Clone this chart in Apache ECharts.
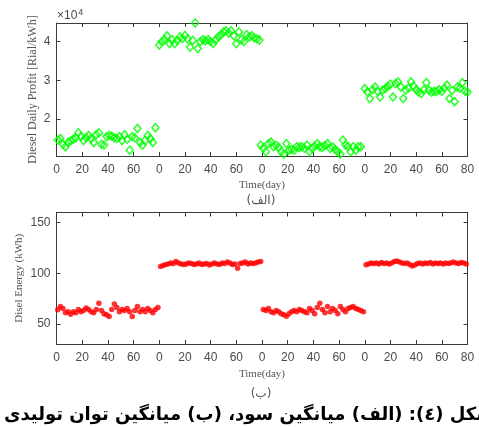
<!DOCTYPE html>
<html>
<head>
<meta charset="utf-8">
<script src="https://cdn.jsdelivr.net/npm/echarts@6/dist/echarts.min.js"></script>
<style>
  html, body { margin: 0; padding: 0; background: #fff; }
  #chart { width: 479px; height: 427px; }
</style>
</head>
<body>
<div id="chart"></div>
<script>
// Tick labels of the concatenated day axis (four 80-day runs)
const xTickLabels = ['0','20','40','60','0','20','40','60','0','20','40','60','0','20','40','60','80'];

// Diesel daily profit, in units of 10^4 Rial/kWh, sampled every 2 days
const profitStart = [1, 80, 159, 240];
const profitSeg1 = [1.46,1.50,1.35,1.29,1.40,1.44,1.48,1.52,1.65,1.55,1.45,1.52,1.58,1.50,1.40,1.60,1.65,1.35,1.33,1.55,
                    1.58,1.56,1.52,1.50,1.55,1.45,1.60,1.48,1.20,1.55,1.52,1.76,1.40,1.33,1.45,1.58,1.50,1.40,1.78];
const profitSeg2 = [3.91,4.00,4.05,4.15,3.95,4.05,3.95,4.03,4.12,4.08,4.16,4.07,3.86,4.03,4.48,3.82,4.00,4.05,4.02,4.05,
                    4.00,3.95,4.05,4.12,4.18,4.25,4.28,4.22,4.28,4.15,3.95,4.25,4.05,4.00,4.18,4.12,4.15,4.10,4.07,4.04];
const profitSeg3 = [1.33,1.25,1.16,1.37,1.41,1.29,1.33,1.27,1.16,1.10,1.37,1.20,1.22,1.20,1.29,1.27,1.29,1.25,1.33,1.16,
                    1.25,1.30,1.37,1.29,1.27,1.32,1.37,1.25,1.28,1.22,1.16,1.10,1.46,1.33,1.30,1.16,1.29,1.20,1.29,1.29];
const profitSeg4 = [2.79,2.70,2.53,2.76,2.83,2.72,2.57,2.75,2.79,2.85,2.90,2.57,2.92,2.96,2.83,2.53,2.75,2.80,2.96,2.85,
                    2.76,2.70,2.66,2.76,2.94,2.74,2.70,2.72,2.72,2.76,2.72,2.80,2.88,2.53,2.74,2.45,2.83,2.80,2.94,2.72,2.70];

// Diesel energy (kWh), sampled every 2 days
const energyStart = [1, 81, 161, 241];
const energySeg1 = [63.8,67,65,61,62,59.5,62,61,64,62,63,65.5,64,62,61,64,70.4,63,60,59,
                    57.2,64,69.5,66,62,64,63,65,62,57.2,63,67,62,64,62,65,63,61,64,66];
const energySeg2 = [106.6,107.5,108.5,109,110,109.5,111.5,110,109,108.5,109,110,109.5,108.5,109,110,108.5,109,109.5,108,
                    109,110,109,108.5,110,109.5,111,110,108.5,109,105,109.5,110,111,109,110,109.5,110,111,111.5];
const energySeg3 = [64,63,65,62,61,63,62,60,59,57.5,60,62,63,62,64,63,62,61,65,63,
                    60,66,70.4,64,61,67,62,65,63,60,67,64,62,65,66,67,65,64,63,62];
const energySeg4 = [108.3,109,110,109.5,110,109,110.5,109.5,110,109,110,111.5,112,111,110,109.5,110,108.5,107,108,
                    109.5,110,109,110,109.5,110.5,109,110,109.5,110,109,110,109.5,110,111,110,109.5,110.5,110,109];

const profitSegs = [profitSeg1, profitSeg2, profitSeg3, profitSeg4];
const energySegs = [energySeg1, energySeg2, energySeg3, energySeg4];

function toPoints(segs, starts, scale) {
  const pts = [];
  segs.forEach((seg, k) => seg.forEach((v, i) => pts.push([starts[k] + 2 * i, v * scale])));
  return pts;
}

const axisColor = '#3a3a3a';
const labelColor = '#4a4a4a';
const tickFont = { fontFamily: 'Liberation Sans', fontSize: 12, color: labelColor };
const serifName = { fontFamily: 'Liberation Serif', fontSize: 11, color: '#555' };

function xAxes(gridIndex, nameGap) {
  const common = {
    type: 'value', gridIndex, min: 0, max: 320, interval: 20,
    axisLine: { show: true, onZero: false, lineStyle: { color: axisColor, width: 1 } },
    axisTick: { show: true, inside: true, length: 4, lineStyle: { color: axisColor } },
    splitLine: { show: false }
  };
  return [
    Object.assign({}, common, {
      position: 'bottom',
      name: 'Time(day)', nameLocation: 'middle', nameGap, nameMoveOverlap: false,
      nameTextStyle: serifName,
      axisLabel: Object.assign({}, tickFont, {
        margin: 8,
        formatter: v => xTickLabels[Math.round(v / 20)]
      })
    }),
    Object.assign({}, common, { position: 'top', axisLabel: { show: false } })
  ];
}

function yAxes(gridIndex, min, max, ticks, fmt, name, nameGap, nameSize) {
  const common = {
    type: 'value', gridIndex, min, max,
    axisLine: { show: true, onZero: false, lineStyle: { color: axisColor, width: 1 } },
    axisTick: { show: true, inside: true, length: 4, customValues: ticks, lineStyle: { color: axisColor } },
    splitLine: { show: false }
  };
  return [
    Object.assign({}, common, {
      position: 'left',
      name, nameLocation: 'middle', nameGap, nameMoveOverlap: false,
      nameTextStyle: Object.assign({}, serifName, { fontSize: nameSize }),
      axisLabel: Object.assign({}, tickFont, { margin: 6, customValues: ticks, formatter: fmt })
    }),
    Object.assign({}, common, { position: 'right', axisLabel: { show: false } })
  ];
}

const chart = echarts.init(document.getElementById('chart'), null, { renderer: 'canvas' });

chart.setOption({
  backgroundColor: '#fff',
  animation: false,
  grid: [
    { left: 56.5, top: 23, width: 411, height: 133 },
    { left: 56.5, top: 212.5, width: 411, height: 131.5 }
  ],
  xAxis: [].concat(xAxes(0, 24), xAxes(1, 25)),
  yAxis: [].concat(
    yAxes(0, 10500, 44800, [20000, 30000, 40000], v => String(v / 10000),
          'Diesel Daily Profit [Rial/kWh]', 17.5, 12),
    yAxes(1, 30, 160, [50, 100, 150], v => String(v),
          'Disel Energy (kWh)', 32, 11)
  ),
  series: [
    {
      type: 'scatter', xAxisIndex: 0, yAxisIndex: 0,
      data: toPoints(profitSegs, profitStart, 10000),
      symbol: 'diamond', symbolSize: [7, 8],
      itemStyle: { color: 'rgba(0,0,0,0)', borderColor: '#00ff00', borderWidth: 1.6 },
      clip: false
    },
    {
      type: 'scatter', xAxisIndex: 2, yAxisIndex: 2,
      data: toPoints(energySegs, energyStart, 1),
      symbol: 'circle', symbolSize: 5.5,
      itemStyle: { color: '#ff0000' },
      clip: false
    }
  ],
  graphic: [
    {
      type: 'text', left: 57, top: 8,
      style: {
        text: '×10{sup|4}',
        font: '12px "Liberation Sans"', fill: labelColor,
        rich: { sup: { fontSize: 9, fontFamily: 'Liberation Sans', fill: labelColor, verticalAlign: 'top', padding: [0, 0, 6, 1] } }
      }
    },
    {
      type: 'text', x: 261, y: 201,
      style: { text: '(الف)', font: '12px "DejaVu Sans"', fill: '#555', align: 'center', verticalAlign: 'middle' }
    },
    {
      type: 'text', x: 261, y: 394,
      style: { text: '(ب)', font: '12px "DejaVu Sans"', fill: '#555', align: 'center', verticalAlign: 'middle' }
    },
    {
      type: 'text', x: 494, y: 415,
      style: {
        text: 'شکل (٤): (الف) میانگین سود، (ب) میانگین توان تولیدی',
        font: 'bold 18px "DejaVu Sans"', fill: '#000', align: 'right', verticalAlign: 'middle'
      }
    }
  ]
});
</script>
</body>
</html>
